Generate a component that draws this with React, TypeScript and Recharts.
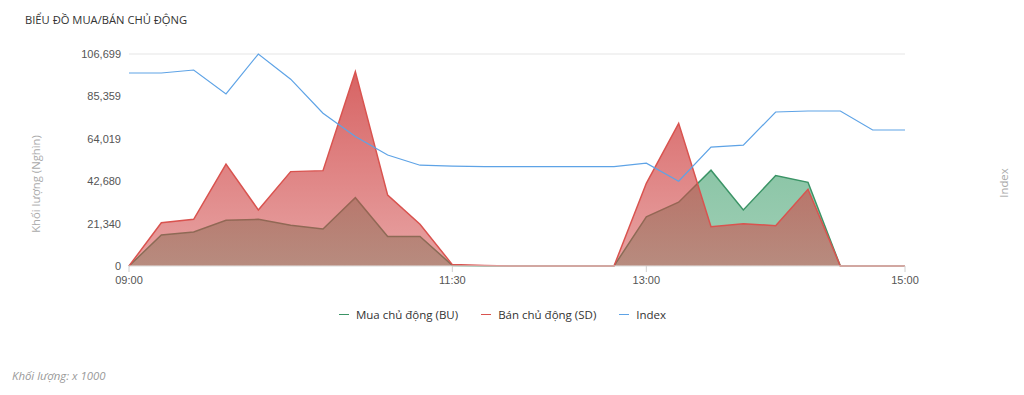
import {
  ComposedChart,
  Area,
  Line,
  XAxis,
  YAxis,
  CartesianGrid,
  Legend,
} from 'recharts'

// minutes since 09:00, one point every 15 minutes
const times = [0, 15, 30, 45, 60, 75, 90, 105, 120, 135, 150, 165, 180, 195, 210, 225, 240, 255, 270, 285, 300, 315, 330, 345, 360]

const buyVolume = [0, 15600, 17100, 23000, 23500, 20500, 18600, 34400, 14900, 14900, 300, 0, 0, 0, 0, 0, 24700, 32100, 48200, 28200, 45500, 42100, 0, 0, 0]
const sellVolume = [0, 21800, 23500, 51300, 28200, 47500, 48000, 97800, 35700, 21000, 700, 200, 0, 0, 0, 0, 41600, 71800, 19800, 21300, 20300, 38600, 0, 0, 0]
const indexValues = [1296.5, 1296.5, 1298.0, 1286.0, 1306.0, 1293.4, 1276.4, 1264.7, 1255.5, 1250.4, 1249.9, 1249.7, 1249.7, 1249.7, 1249.7, 1249.7, 1251.4, 1242.4, 1259.4, 1260.4, 1277.0, 1277.5, 1277.5, 1268.0, 1268.0]

const volumeTicks = [0, 21340, 42680, 64019, 85359, 106699]
const timeTicks = [0, 150, 240, 360]
const legendOrder = ['Mua chủ động (BU)', 'Bán chủ động (SD)', 'Index']

const data = times.map((t, i) => ({
  t,
  buy: buyVolume[i],
  sell: sellVolume[i],
  index: indexValues[i],
}))

const fmtTime = (m: number) => {
  const h = 9 + Math.floor(m / 60)
  const mm = m % 60
  return `${String(h).padStart(2, '0')}:${String(mm).padStart(2, '0')}`
}

const tickFont = 'Liberation Sans, Arial, sans-serif'
const textFont = '"Open Sans", sans-serif'

const renderLegend = (props: any) => {
  const items = [...(props.payload || [])].sort(
    (a: any, b: any) => legendOrder.indexOf(a.value) - legendOrder.indexOf(b.value)
  )
  return (
    <div
      style={{
        height: 44,
        display: 'flex',
        justifyContent: 'center',
        alignItems: 'flex-start',
        paddingTop: 11,
        boxSizing: 'border-box',
        gap: 23,
        paddingLeft: 100,
        fontFamily: textFont,
        fontSize: 11.5,
        color: '#333',
      }}
    >
      {items.map((it: any) => (
        <span key={it.value} style={{ display: 'flex', alignItems: 'center' }}>
          <span style={{ display: 'inline-block', width: 10, height: 1.5, background: it.color, marginRight: 7 }} />
          {it.value}
        </span>
      ))}
    </div>
  )
}

export default function App() {
  return (
    <div style={{ position: 'absolute', left: 0, top: 0, width: 1024, height: 395, background: '#fff' }}>
      <div style={{ position: 'absolute', left: 25, top: 12, fontFamily: textFont, fontSize: 11.2, color: '#333' }}>
        BIỂU ĐỒ MUA/BÁN CHỦ ĐỘNG
      </div>

      <ComposedChart
        width={1024}
        height={340}
        data={data}
        margin={{ top: 54, right: 119, left: 0, bottom: 0 }}
      >
        <defs>
          <linearGradient id="sellFill" x1="0" y1="0" x2="0" y2="1">
            <stop offset="0%" stopColor="#d04848" stopOpacity={0.85} />
            <stop offset="100%" stopColor="#d04848" stopOpacity={0.5} />
          </linearGradient>
          <linearGradient id="buyFill" x1="0" y1="0" x2="0" y2="1">
            <stop offset="0%" stopColor="#3f9f6c" stopOpacity={0.6} />
            <stop offset="100%" stopColor="#3f9f6c" stopOpacity={0.5} />
          </linearGradient>
        </defs>
        <CartesianGrid vertical={false} stroke="#e6e6e6" strokeWidth={1.2} />
        <XAxis
          dataKey="t"
          type="number"
          domain={[0, 360]}
          ticks={timeTicks}
          tickFormatter={fmtTime}
          axisLine={{ stroke: '#e6e6e6' }}
          tickLine={{ stroke: '#d0d0d0' }}
          tickSize={6}
          tickMargin={4}
          height={30}
          tick={{ fill: '#555', fontSize: 11, fontFamily: tickFont }}
        />
        <YAxis
          yAxisId="vol"
          width={129}
          domain={[0, 106699]}
          ticks={volumeTicks}
          tickFormatter={(v: number) => v.toLocaleString('en-US')}
          axisLine={false}
          tickLine={false}
          tick={{ fill: '#555', fontSize: 11, fontFamily: tickFont }}
        />
        <YAxis yAxisId="idx" orientation="right" hide domain={[1200, 1306]} />
        <Area
          yAxisId="vol"
          type="linear"
          dataKey="buy"
          name="Mua chủ động (BU)"
          stroke="#3b9466"
          strokeWidth={1.5}
          fill="url(#buyFill)"
          fillOpacity={1}
          dot={false}
          activeDot={false}
          isAnimationActive={false}
        />
        <Area
          yAxisId="vol"
          type="linear"
          dataKey="sell"
          name="Bán chủ động (SD)"
          stroke="#d9534f"
          strokeWidth={1.5}
          fill="url(#sellFill)"
          fillOpacity={1}
          dot={false}
          activeDot={false}
          isAnimationActive={false}
        />
        <Line
          yAxisId="idx"
          type="linear"
          dataKey="index"
          name="Index"
          stroke="#5ea3e6"
          strokeWidth={1.2}
          dot={false}
          activeDot={false}
          isAnimationActive={false}
        />
        <Legend verticalAlign="bottom" height={44} content={renderLegend} />
      </ComposedChart>

      <div
        style={{
          position: 'absolute',
          left: 35,
          top: 184,
          transform: 'translate(-50%, -50%) rotate(-90deg)',
          whiteSpace: 'nowrap',
          fontFamily: textFont,
          fontSize: 11.3,
          color: '#aaa',
        }}
      >
        Khối lượng (Nghìn)
      </div>
      <div
        style={{
          position: 'absolute',
          left: 1003,
          top: 183,
          transform: 'translate(-50%, -50%) rotate(-90deg)',
          whiteSpace: 'nowrap',
          fontFamily: textFont,
          fontSize: 11.3,
          color: '#aaa',
        }}
      >
        Index
      </div>
      <div
        style={{
          position: 'absolute',
          left: 12,
          top: 368,
          fontFamily: textFont,
          fontStyle: 'italic',
          fontSize: 11.4,
          color: '#999',
        }}
      >
        Khối lượng: x 1000
      </div>
    </div>
  )
}
